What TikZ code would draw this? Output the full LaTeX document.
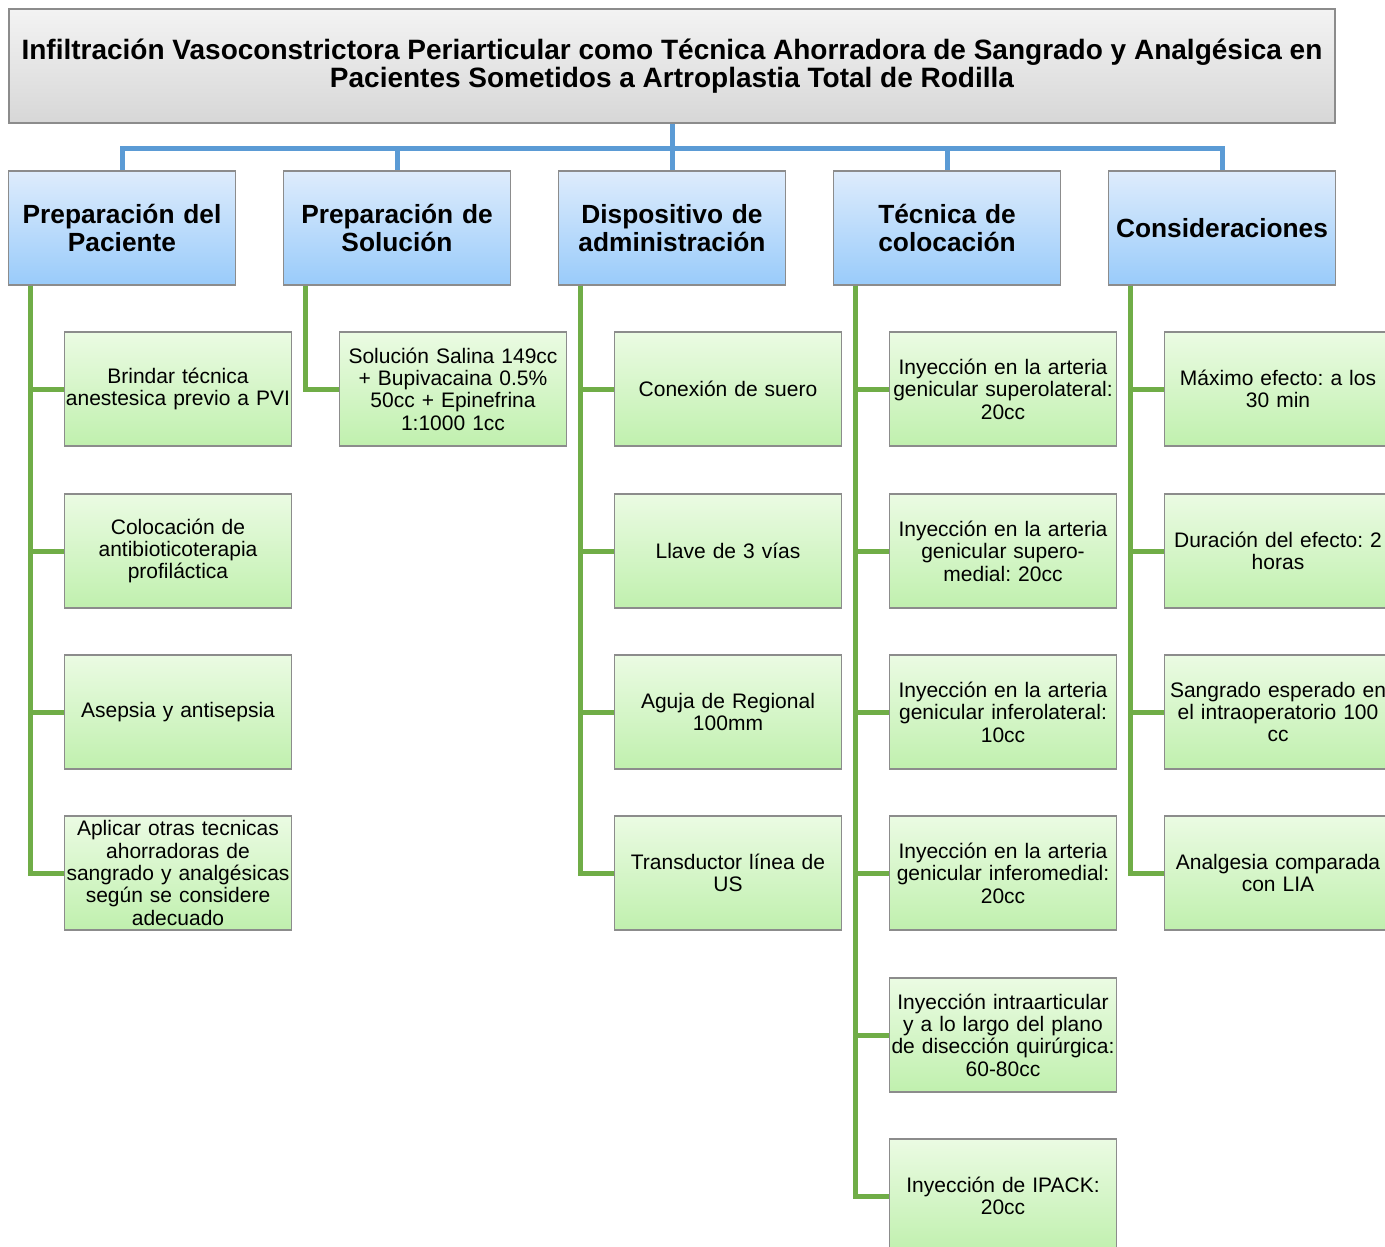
\documentclass[tikz,border=0pt]{standalone}
\usepackage{fontspec}
\setmainfont{Liberation Sans}
\usetikzlibrary{positioning}

\definecolor{bordergray}{RGB}{140,140,140}
\definecolor{titletop}{RGB}{243,243,243}
\definecolor{titlebot}{RGB}{215,215,215}
\definecolor{headtop}{RGB}{222,236,252}
\definecolor{headbot}{RGB}{153,203,250}
\definecolor{leaftop}{RGB}{235,251,227}
\definecolor{leafbot}{RGB}{192,240,174}
\definecolor{busblue}{RGB}{91,155,213}
\definecolor{leafgreen}{RGB}{112,173,71}

\begin{document}
\frenchspacing
\begin{tikzpicture}[x=1pt, y=-1pt,
	titlebox/.style = {draw=bordergray, line width=1.3pt, top color=titletop, bottom color=titlebot,
		minimum width=1326pt, minimum height=114pt, inner sep=0pt, align=center,
		font=\fontsize{28}{28.5}\selectfont\bfseries},
	headbox/.style = {draw=bordergray, line width=1.3pt, top color=headtop, bottom color=headbot,
		minimum width=227pt, minimum height=114pt, text width=227pt, inner sep=0pt, align=center,
		font=\fontsize{26.3}{28}\selectfont\bfseries},
	leafbox/.style = {draw=bordergray, line width=1.3pt, top color=leaftop, bottom color=leafbot,
		minimum width=227pt, minimum height=114pt, text width=227pt, inner sep=0pt, align=center,
		font=\fontsize{21}{22.4}\selectfont},
	busline/.style = {draw=busblue, line width=5pt},
	leafline/.style = {draw=leafgreen, line width=5pt}]

	\clip (0,0) rectangle (1385,1247);

	\node [titlebox] (title) at (672,66) {Infiltración Vasoconstrictora Periarticular como Técnica Ahorradora de Sangrado y Analgésica en\\Pacientes Sometidos a Artroplastia Total de Rodilla};

	\node [headbox] (hPac) at (122,228) {Preparación del\\Paciente};
	\node [headbox] (hSol) at (397,228) {Preparación de\\Solución};
	\node [headbox] (hDis) at (672,228) {Dispositivo de\\administración};
	\node [headbox] (hTec) at (947,228) {Técnica de\\colocación};
	\node [headbox] (hCon) at (1222,228) {Consideraciones};

	% blue bus
	\coordinate (bus) at (672,148);
	\draw [busline] (title.south) -- (bus);
	\draw [busline] (bus) -| (hPac.north);
	\draw [busline] (bus) -| (hSol.north);
	\draw [busline] (bus) -| (hDis.north);
	\draw [busline] (bus) -| (hTec.north);
	\draw [busline] (bus) -| (hCon.north);

	% Paciente
	\node [leafbox] (pac1) at (178,389) {Brindar técnica\\anestesica previo a PVI};
	\node [leafbox] (pac2) at (178,551) {Colocación de\\antibioticoterapia\\profiláctica};
	\node [leafbox] (pac3) at (178,712) {Asepsia y antisepsia};
	\node [leafbox] (pac4) at (178,873) {Aplicar otras tecnicas\\ahorradoras de\\sangrado y analgésicas\\según se considere\\adecuado};

	% Solucion
	\node [leafbox] (sol1) at (453,389) {Solución Salina 149cc\\+ Bupivacaina 0.5\%\\50cc + Epinefrina\\1:1000 1cc};

	% Dispositivo
	\node [leafbox] (dis1) at (728,389) {Conexión de suero};
	\node [leafbox] (dis2) at (728,551) {Llave de 3 vías};
	\node [leafbox] (dis3) at (728,712) {Aguja de Regional\\100mm};
	\node [leafbox] (dis4) at (728,873) {Transductor línea de\\US};

	% Tecnica
	\node [leafbox] (tec1) at (1003,389) {Inyección en la arteria\\genicular superolateral:\\20cc};
	\node [leafbox] (tec2) at (1003,551) {Inyección en la arteria\\genicular supero-\\medial: 20cc};
	\node [leafbox] (tec3) at (1003,712) {Inyección en la arteria\\genicular inferolateral:\\10cc};
	\node [leafbox] (tec4) at (1003,873) {Inyección en la arteria\\genicular inferomedial:\\20cc};
	\node [leafbox] (tec5) at (1003,1035) {Inyección intraarticular\\y a lo largo del plano\\de disección quirúrgica:\\60-80cc};
	\node [leafbox] (tec6) at (1003,1196) {Inyección de IPACK:\\20cc};

	% Consideraciones
	\node [leafbox] (con1) at (1278,389) {Máximo efecto: a los\\30 min};
	\node [leafbox] (con2) at (1278,551) {Duración del efecto: 2\\horas};
	\node [leafbox] (con3) at (1278,712) {Sangrado esperado en\\el intraoperatorio 100\\cc};
	\node [leafbox] (con4) at (1278,873) {Analgesia comparada\\con LIA};

	% green elbows
	\foreach \h/\c in {hPac/pac1, hPac/pac2, hPac/pac3, hPac/pac4, hSol/sol1,
		hDis/dis1, hDis/dis2, hDis/dis3, hDis/dis4,
		hTec/tec1, hTec/tec2, hTec/tec3, hTec/tec4, hTec/tec5, hTec/tec6,
		hCon/con1, hCon/con2, hCon/con3, hCon/con4}
		\draw [leafline] ([xshift=23pt]\h.south west) |- (\c.west);

\end{tikzpicture}
\end{document}
